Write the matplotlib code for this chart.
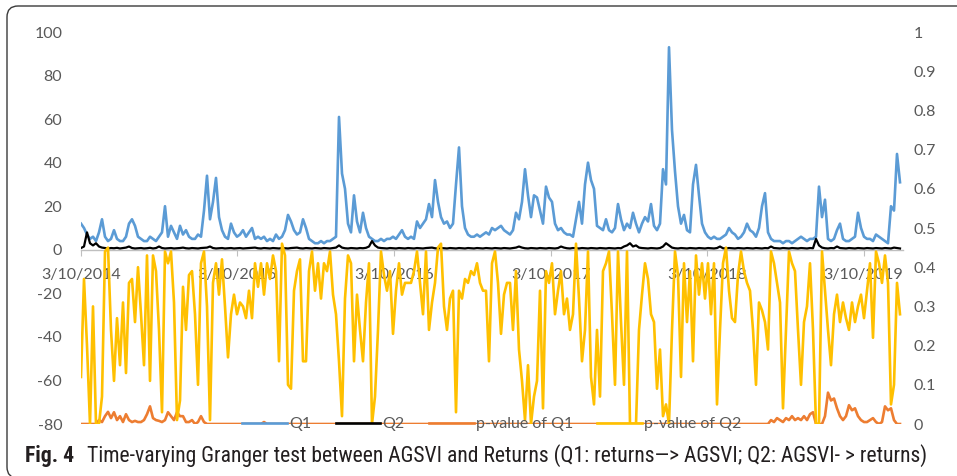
import matplotlib
matplotlib.use("Agg")
import matplotlib.pyplot as plt
from matplotlib import font_manager
from matplotlib.patches import FancyBboxPatch
from matplotlib.lines import Line2D
import pandas as pd

plt.rcParams['axes.unicode_minus'] = False
plt.rcParams['font.family'] = ['Lato', 'DejaVu Sans']

# ---------------- data (weekly observations from 3/10/2014) ----------------
start_date = '2014-03-10'
n_obs = 274

q1 = [12, 10, 7, 5, 6, 4, 8, 14, 6, 4,
      5, 9, 5, 4, 4, 6, 12, 14, 11, 6,
      5, 4, 4, 6, 5, 4, 6, 8, 20, 6,
      11, 8, 5, 11, 7, 9, 6, 5, 5, 7,
      6, 18, 34, 14, 22, 33, 15, 9, 6, 5,
      12, 8, 6, 7, 9, 6, 8, 10, 5, 6,
      5, 6, 4, 5, 4, 7, 5, 6, 9, 16,
      13, 9, 7, 8, 14, 10, 5, 4, 3, 3,
      4, 3, 4, 4, 5, 6, 61, 35, 28, 12,
      8, 25, 13, 8, 17, 10, 6, 5, 4, 4,
      5, 4, 5, 5, 6, 5, 7, 9, 6, 5,
      6, 5, 13, 10, 12, 14, 21, 15, 32, 22,
      15, 12, 13, 10, 12, 30, 47, 20, 10, 7,
      6, 6, 7, 6, 7, 8, 7, 10, 9, 10,
      11, 9, 8, 7, 9, 17, 14, 22, 37, 25,
      15, 25, 24, 18, 12, 29, 24, 22, 12, 9,
      10, 8, 7, 7, 6, 14, 22, 12, 30, 40,
      32, 28, 11, 10, 9, 14, 9, 8, 10, 21,
      14, 9, 12, 10, 17, 12, 8, 12, 15, 13,
      21, 11, 9, 12, 37, 30, 93, 55, 36, 20,
      12, 16, 9, 8, 30, 39, 25, 12, 8, 6,
      5, 6, 5, 5, 6, 7, 10, 8, 7, 5,
      6, 8, 12, 9, 8, 6, 10, 20, 26, 8,
      5, 4, 4, 4, 3, 4, 4, 3, 4, 5,
      6, 5, 4, 5, 5, 6, 29, 15, 23, 5,
      4, 5, 9, 12, 5, 4, 4, 5, 6, 17,
      10, 6, 5, 5, 4, 7, 6, 5, 4, 3,
      20, 18, 44, 31]

q2 = [0.8, 1.5, 8, 3, 2, 3, 1.5, 1, 0.8, 0.6,
      0.8, 0.7, 0.9, 0.6, 0.8, 1.0, 1.5, 0.8, 0.6, 0.7,
      0.8, 0.6, 0.7, 0.9, 0.6, 0.8, 1.5, 0.8, 0.6, 0.7,
      0.8, 0.6, 0.7, 0.8, 1.0, 0.7, 0.6, 0.8, 0.7, 0.6,
      0.8, 0.9, 1.0, 1.5, 0.8, 0.6, 0.7, 0.8, 0.6, 0.7,
      0.8, 0.6, 0.7, 0.8, 0.6, 0.7, 0.8, 0.9, 1.0, 0.7,
      0.6, 0.8, 0.7, 0.6, 0.8, 0.7, 0.6, 0.8, 0.7, 0.6,
      0.8, 0.9, 1.0, 0.7, 0.6, 0.8, 0.7, 0.6, 0.8, 0.7,
      0.6, 0.8, 0.7, 0.6, 0.8, 1.0, 2.0, 1.0, 0.7, 0.6,
      0.8, 0.7, 0.6, 0.8, 0.7, 0.9, 1.5, 4.0, 2.0, 1.0,
      0.8, 0.7, 0.6, 0.8, 0.7, 0.6, 0.8, 0.7, 0.6, 0.8,
      0.7, 0.6, 0.8, 0.7, 0.6, 0.8, 0.9, 1.0, 0.7, 0.6,
      0.8, 0.7, 0.6, 0.8, 0.7, 0.6, 0.8, 0.7, 0.6, 0.8,
      0.7, 0.6, 0.8, 0.7, 0.6, 0.8, 0.7, 0.6, 0.8, 0.7,
      0.6, 0.8, 0.7, 0.6, 0.8, 1.0, 1.5, 1.0, 0.7, 0.6,
      0.8, 0.7, 0.6, 0.8, 0.7, 0.6, 0.8, 0.7, 0.6, 0.8,
      1.5, 1.0, 0.7, 0.6, 0.8, 0.7, 0.6, 0.8, 0.7, 0.6,
      0.8, 0.7, 0.6, 0.8, 0.7, 0.6, 0.8, 0.7, 0.6, 0.8,
      0.7, 1.5, 2.0, 3.0, 1.5, 2.0, 1.0, 0.8, 0.7, 0.6,
      0.8, 0.7, 0.6, 0.8, 1.5, 3.0, 2.0, 1.0, 0.7, 0.6,
      0.8, 0.7, 0.6, 0.8, 0.7, 0.6, 0.8, 0.7, 0.6, 0.8,
      0.7, 0.6, 0.8, 1.5, 0.7, 0.6, 0.8, 0.7, 0.6, 0.8,
      0.7, 0.6, 0.8, 0.7, 0.6, 0.8, 0.7, 0.6, 0.8, 0.7,
      1.5, 0.8, 0.7, 0.6, 0.8, 0.7, 0.6, 0.8, 0.7, 0.6,
      0.8, 0.7, 0.6, 0.8, 0.7, 5.0, 2.0, 1.0, 0.7, 0.6,
      0.8, 0.7, 1.5, 0.8, 0.7, 0.6, 0.8, 0.7, 0.6, 0.8,
      0.7, 0.6, 0.8, 0.7, 0.6, 0.8, 0.7, 0.6, 0.8, 0.7,
      0.6, 1.0, 0.8, 0.6]

p_q1 = [0, 0, 0, 0, 0, 0, 0.01, 0.005, 0.02, 0.031,
        0.015, 0.03, 0.01, 0.02, 0.005, 0.025, 0.01, 0.005, 0.008, 0.005,
        0.005, 0.01, 0.025, 0.045, 0.015, 0.01, 0.008, 0.005, 0.01, 0.03,
        0.02, 0.01, 0.03, 0.02, 0.02, 0.005, 0.005, 0.01, 0, 0.005,
        0.02, 0.005, 0, 0, 0, 0, 0, 0, 0, 0,
        0, 0, 0, 0, 0, 0, 0, 0, 0, 0,
        0, 0.005, 0, 0, 0, 0, 0, 0, 0, 0,
        0, 0, 0, 0, 0, 0, 0, 0, 0, 0,
        0, 0, 0, 0, 0, 0, 0, 0, 0, 0,
        0, 0, 0, 0, 0, 0, 0, 0, 0, 0,
        0, 0, 0, 0, 0, 0, 0, 0, 0, 0,
        0, 0, 0, 0, 0, 0, 0, 0, 0, 0,
        0, 0, 0, 0, 0, 0, 0, 0, 0, 0,
        0, 0, 0, 0, 0, 0, 0, 0, 0, 0,
        0, 0, 0, 0, 0, 0, 0, 0, 0, 0,
        0, 0, 0, 0, 0, 0, 0, 0, 0, 0,
        0, 0, 0, 0, 0, 0, 0, 0, 0, 0,
        0, 0, 0, 0, 0, 0, 0, 0, 0, 0,
        0, 0, 0, 0, 0, 0, 0, 0, 0, 0,
        0, 0, 0, 0, 0, 0, 0, 0, 0, 0,
        0, 0, 0, 0, 0, 0, 0, 0, 0, 0,
        0, 0, 0, 0, 0, 0, 0, 0, 0, 0,
        0, 0, 0, 0, 0, 0, 0, 0, 0, 0,
        0.01, 0.005, 0.015, 0.01, 0.005, 0.015, 0.01, 0.02, 0.01, 0.015,
        0.01, 0.02, 0.01, 0.025, 0.03, 0, 0, 0, 0.02, 0.08,
        0.06, 0.065, 0.04, 0.02, 0.01, 0.02, 0.048, 0.035, 0.04, 0.02,
        0.01, 0.005, 0.005, 0.01, 0.015, 0.005, 0, 0.005, 0.045, 0.035,
        0.04, 0.01, 0, 0]

p_q2 = [0.12, 0.37, 0.20, 0.0, 0.30, 0.0, 0.0, 0.07, 0.44, 0.45,
        0.24, 0.11, 0.27, 0.15, 0.31, 0.13, 0.36, 0.37, 0.26, 0.40,
        0.28, 0.15, 0.43, 0.11, 0.43, 0.39, 0.24, 0.03, 0.44, 0.41,
        0.44, 0.31, 0.01, 0.06, 0.35, 0.24, 0.38, 0.39, 0.28, 0.10,
        0.41, 0.44, 0.30, 0.01, 0.36, 0.41, 0.33, 0.42, 0.30, 0.17,
        0.28, 0.33, 0.28, 0.31, 0.30, 0.27, 0.34, 0.27, 0.41, 0.35,
        0.41, 0.33, 0.41, 0.37, 0.43, 0.39, 0.16, 0.46, 0.43, 0.10,
        0.09, 0.34, 0.39, 0.42, 0.16, 0.16, 0.39, 0.44, 0.34, 0.41,
        0.32, 0.41, 0.39, 0.44, 0.33, 0.28, 0.16, 0.02, 0.32, 0.43,
        0.41, 0.16, 0.33, 0.24, 0.16, 0.31, 0.41, 0.0, 0.07, 0.24,
        0.44, 0.38, 0.34, 0.39, 0.23, 0.34, 0.41, 0.33, 0.36, 0.36,
        0.36, 0.39, 0.44, 0.36, 0.28, 0.44, 0.24, 0.31, 0.36, 0.45,
        0.46, 0.30, 0.24, 0.32, 0.34, 0.03, 0.34, 0.32, 0.37, 0.36,
        0.39, 0.38, 0.41, 0.36, 0.34, 0.34, 0.16, 0.41, 0.44, 0.36,
        0.23, 0.33, 0.36, 0.36, 0.24, 0.39, 0.19, 0.11, 0.01, 0.15,
        0.0, 0.07, 0.11, 0.34, 0.04, 0.39, 0.36, 0.41, 0.28, 0.34,
        0.39, 0.28, 0.32, 0.24, 0.28, 0.46, 0.32, 0.16, 0.24, 0.44,
        0.12, 0.05, 0.24, 0.07, 0.39, 0.41, 0.44, 0.28, 0.10, 0.44,
        0.26, 0.10, 0.44, 0.0, 0.0, 0.0, 0.24, 0.33, 0.41, 0.37,
        0.28, 0.26, 0.09, 0.19, 0.02, 0.05, 0.0, 0.24, 0.44, 0.38,
        0.12, 0.41, 0.26, 0.39, 0.16, 0.43, 0.33, 0.41, 0.32, 0.41,
        0.28, 0.41, 0.05, 0.24, 0.41, 0.45, 0.34, 0.27, 0.26, 0.38,
        0.44, 0.39, 0.36, 0.34, 0.24, 0.10, 0.31, 0.29, 0.26, 0.19,
        0.44, 0.41, 0.36, 0.31, 0.04, 0.24, 0.44, 0.41, 0.39, 0.24,
        0.10, 0.26, 0.30, 0.41, 0.24, 0.0, 0.0, 0.44, 0.34, 0.24,
        0.15, 0.28, 0.33, 0.26, 0.31, 0.27, 0.24, 0.31, 0.26, 0.30,
        0.33, 0.27, 0.34, 0.41, 0.22, 0.44, 0.41, 0.36, 0.43, 0.36,
        0.05, 0.10, 0.36, 0.28]

series_names = ['Q1', 'Q2', 'p-value of Q1', 'p-value of Q2']
left_ticks = [-80, -60, -40, -20, 0, 20, 40, 60, 80, 100]
right_ticks = [0, 0.1, 0.2, 0.3, 0.4, 0.5, 0.6, 0.7, 0.8, 0.9, 1]
right_tick_labels = ['0', '0.1', '0.2', '0.3', '0.4', '0.5', '0.6', '0.7', '0.8', '0.9', '1']
x_tick_dates = ['2014-03-10', '2015-03-10', '2016-03-10', '2017-03-10', '2018-03-10', '2019-03-10']
x_tick_labels = ['3/10/2014', '3/10/2015', '3/10/2016', '3/10/2017', '3/10/2018', '3/10/2019']
caption_bold = 'Fig. 4'
caption_text = 'Time-varying Granger test between AGSVI and Returns (Q1: returns\u2014> AGSVI; Q2: AGSVI- > returns)'

dates = pd.date_range(start_date, periods=n_obs, freq='7D')

# ---------------- styling ----------------
C_BLUE = '#5B9BD5'
C_BLACK = '#000000'
C_ORANGE = '#ED7D31'
C_YELLOW = '#FFC000'
C_TEXT = '#595959'
W, H = 957, 476

# pick a narrow font for the caption if one is installed
installed = {(f.name, f.stretch) for f in font_manager.fontManager.ttflist}
installed_names = {n for n, _ in installed}
cap_family, cap_stretch = 'Lato', 'normal'
for name in ['Roboto Condensed', 'Liberation Sans Narrow', 'Open Sans Condensed',
             'DejaVu Sans Condensed', 'Noto Sans Condensed']:
    if name in installed_names:
        cap_family = name
        break
else:
    for name in ['Open Sans', 'Noto Sans', 'DejaVu Sans', 'Roboto']:
        st = [s for n, s in installed if n == name and s in ('condensed', 'semi-condensed', 'extra-condensed')]
        if st:
            cap_family, cap_stretch = name, st[0]
            break

fig = plt.figure(figsize=(W / 100, H / 100), dpi=100)
ax = fig.add_axes([81 / W, (H - 424) / H, (903 - 81) / W, (424 - 32) / H])
ax2 = ax.twinx()

lw = 1.9
ax.plot(dates, q1, color=C_BLUE, lw=lw, zorder=3)
ax.plot(dates, q2, color=C_BLACK, lw=1.6, zorder=4)
ax2.plot(dates, p_q1, color=C_ORANGE, lw=lw, zorder=3)
ax2.plot(dates, p_q2, color=C_YELLOW, lw=lw, zorder=4)

ax.set_ylim(-80, 100)
ax2.set_ylim(0, 1)
ax.set_xlim(pd.Timestamp(start_date), dates[-1] + pd.Timedelta(days=7))

ax.set_yticks(left_ticks)
ax.set_yticklabels([str(v) for v in left_ticks])
ax2.set_yticks(right_ticks)
ax2.set_yticklabels(right_tick_labels)

ax.set_xticks(pd.to_datetime(x_tick_dates))
ax.set_xticklabels(x_tick_labels)

for a in (ax, ax2):
    for s in ('top', 'left', 'right'):
        a.spines[s].set_visible(False)
    a.set_facecolor('none')
ax2.spines['bottom'].set_visible(False)
ax.spines['bottom'].set_position(('data', 0))
ax.spines['bottom'].set_color('#BFBFBF')
ax.spines['bottom'].set_linewidth(1.0)

FS = 11.5
ax.tick_params(axis='y', length=0, pad=13.5, labelsize=FS, labelcolor=C_TEXT)
ax2.tick_params(axis='y', length=0, pad=7.5, labelsize=FS, labelcolor=C_TEXT)
ax.tick_params(axis='x', length=4, width=0.8, color='#BFBFBF', pad=9,
               labelsize=FS, labelcolor=C_TEXT)

handles = [Line2D([], [], color=C_BLUE, lw=lw),
           Line2D([], [], color=C_BLACK, lw=lw),
           Line2D([], [], color=C_ORANGE, lw=lw),
           Line2D([], [], color=C_YELLOW, lw=lw)]
leg = ax2.legend(handles, series_names, loc='center',
                 bbox_to_anchor=((492 - 81) / (903 - 81), 0.0),
                 ncol=4, frameon=False, fontsize=FS, handlelength=2.8,
                 handletextpad=0.15, columnspacing=1.5, borderpad=0)
for t in leg.get_texts():
    t.set_color(C_TEXT)
leg.set_zorder(10)

# frame around figure
frame = FancyBboxPatch((7, -2), 1000, H - 6 + 2,
                       boxstyle='round,pad=0,rounding_size=11',
                       transform=None, facecolor='none',
                       edgecolor='#3a3a3a', lw=1.0)
fig.patches.append(frame)

# caption
cap_y = (H - 462) / H
cfs = 16.0
t1 = fig.text(25 / W, cap_y, caption_bold, fontsize=cfs, weight='bold',
              family=[cap_family, 'DejaVu Sans'], stretch=cap_stretch,
              color='#231F20', va='baseline', ha='left')
t2 = fig.text(0, cap_y, caption_text, fontsize=cfs,
              family=[cap_family, 'DejaVu Sans'], stretch=cap_stretch,
              color='#231F20', va='baseline', ha='left')
fig.canvas.draw()
r = fig.canvas.get_renderer()
for _ in range(3):
    w1 = t1.get_window_extent(r).width
    gap = 0.6 * cfs * 100 / 72
    t2.set_x((25 + w1 + gap) / W)
    fig.canvas.draw()
    w2 = t2.get_window_extent(r)
    total = w2.x1 - 25
    cfs = min(cfs * (923 - 25) / total, 17.0)
    t1.set_fontsize(cfs)
    t2.set_fontsize(cfs)
    fig.canvas.draw()
w1 = t1.get_window_extent(r).width
t2.set_x((25 + w1 + 0.6 * cfs * 100 / 72) / W)

fig.savefig('out.png', dpi=100)
